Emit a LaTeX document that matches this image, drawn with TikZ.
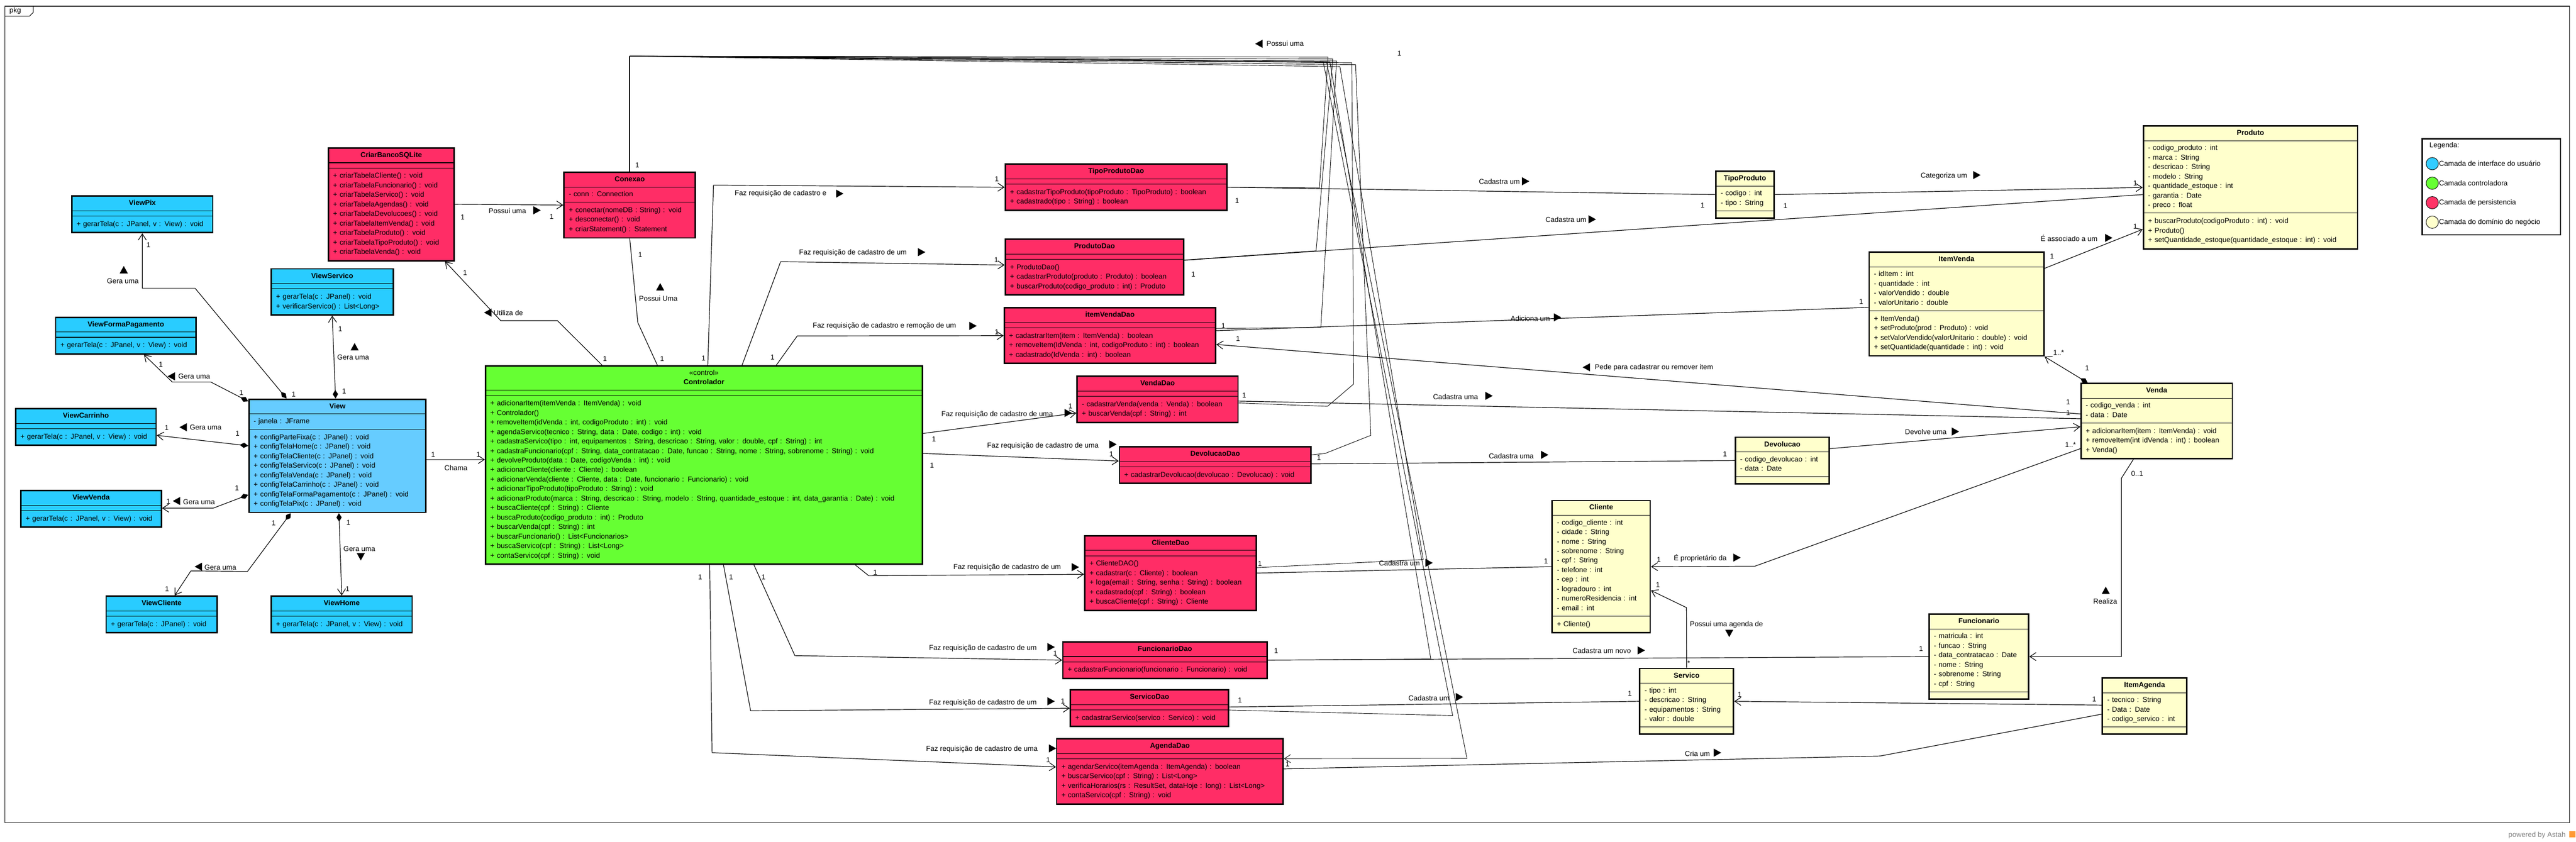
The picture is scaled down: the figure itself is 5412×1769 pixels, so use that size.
\documentclass[tikz,border=0pt]{standalone}
\usepackage{fontspec}
\setmainfont{Liberation Sans}
\usepackage{tikz}
\usetikzlibrary{positioning, fit, arrows.meta}

\definecolor{azulview}{HTML}{29CCFF}
\definecolor{azulmain}{HTML}{66CCFF}
\definecolor{verdectrl}{HTML}{66FF33}
\definecolor{rosadao}{HTML}{FF2D66}
\definecolor{amarelodom}{HTML}{FFFFCC}
\definecolor{azulleg}{HTML}{33CCFF}
\definecolor{rosaleg}{HTML}{FF3366}

\newcommand{\linhas}[1]{\begin{tabular}{@{}l@{}}#1\end{tabular}}
\newcommand{\linhasc}[1]{\begin{tabular}{@{}c@{}}#1\end{tabular}}
% classe UML : nome, posicao, largura do texto, cor, titulo, atributos, metodos
\newcommand{\classe}[7]{%
  \node[cabeca, fill=#4, text width=#3] (#1-t) at #2 {\linhasc{#5}};
  \if\relax\detokenize{#6}\relax
    \node[atrib, inner ysep=5.5pt, fill=#4, text width=#3, below=0pt of #1-t] (#1-a) {};
  \else
    \node[atrib, fill=#4, text width=#3, below=0pt of #1-t] (#1-a) {\linhas{#6}};
  \fi
  \if\relax\detokenize{#7}\relax
    \node[metodo, fill=#4, text width=#3, below=0pt of #1-a] (#1-m) {};
  \else
    \node[metodo, fill=#4, text width=#3, below=0pt of #1-a] (#1-m) {\linhas{#7}};
  \fi
  \node[borda, fit=(#1-t)(#1-m)] (#1) {};
}

\begin{document}
\begin{tikzpicture}[
		x=1pt, y=-1pt,
		font=\fontsize{15}{20}\selectfont,
		cabeca/.style={draw, line width=1.2pt, outer sep=0pt, inner xsep=10pt, inner ysep=5.5pt, align=center, anchor=north west, font=\fontsize{15}{20}\selectfont\bfseries},
		atrib/.style={draw, line width=1.2pt, outer sep=0pt, inner xsep=10pt, inner ysep=6pt, align=left},
		metodo/.style={draw, line width=1.2pt, outer sep=0pt, inner xsep=10pt, inner ysep=7.5pt, align=left},
		borda/.style={draw, line width=3pt, inner sep=0pt},
		assoc/.style={line width=1.3pt},
		nav/.style={assoc, arrows={-Straight Barb[length=13pt, width=17pt]}},
		comp/.style={assoc, arrows={Diamond[length=18pt, width=11pt]-Straight Barb[length=13pt, width=17pt]}},
		fio/.style={line width=1pt},
		rotulo/.style={inner sep=0pt},
		mult/.style={inner sep=0pt},
		pics/tri/.style={code={\fill[rotate=#1] (8,0) -- (-7.5,8.5) -- (-7.5,-8.5) -- cycle;}}
		]
		\useasboundingbox (0,0) rectangle (5412,1769);
		
		% Moldura do pacote
		\draw[line width=1.2pt] (10,13) rectangle (5398,1729);
		\draw[line width=1.2pt] (10,34) -- (62,34) -- (70,26) -- (70,13);
		\node[rotulo] (pkg) at (32,23) {pkg};
		
		% Camada de interface
		\classe{ViewPix}{(151,412)}{276pt}{azulview}{ViewPix}{}{+ gerarTela(c : JPanel, v : View) : void}
		\classe{ViewServico}{(570,565)}{236pt}{azulview}{ViewServico}{}{+ gerarTela(c : JPanel) : void\\+ verificarServico() : List<Long>}
		\classe{ViewFormaPagamento}{(117,667)}{275pt}{azulview}{ViewFormaPagamento}{}{+ gerarTela(c : JPanel, v : View) : void}
		\classe{ViewCarrinho}{(33,859)}{275pt}{azulview}{ViewCarrinho}{}{+ gerarTela(c : JPanel, v : View) : void}
		\classe{ViewVenda}{(44,1031)}{275pt}{azulview}{ViewVenda}{}{+ gerarTela(c : JPanel, v : View) : void}
		\classe{ViewCliente}{(223,1253)}{213pt}{azulview}{ViewCliente}{}{+ gerarTela(c : JPanel) : void}
		\classe{ViewHome}{(570,1253)}{276pt}{azulview}{ViewHome}{}{+ gerarTela(c : JPanel, v : View) : void}
		\classe{View}{(523,839)}{352pt}{azulmain}{View}{- janela : JFrame}{+ configParteFixa(c : JPanel) : void\\+ configTelaHome(c : JPanel) : void\\+ configTelaCliente(c : JPanel) : void\\+ configTelaServico(c : JPanel) : void\\+ configTelaVenda(c : JPanel) : void\\+ configTelaCarrinho(c : JPanel) : void\\+ configTelaFormaPagamento(c : JPanel) : void\\+ configTelaPix(c : JPanel) : void}
		
		% Camada controladora
		\classe{Controlador}{(1020,769)}{898pt}{verdectrl}{{\mdseries <<control>>}\\Controlador}{}{+ adicionarItem(itemVenda : ItemVenda) : void\\+ Controlador()\\+ removeItem(idVenda : int, codigoProduto : int) : void\\+ agendaServico(tecnico : String, data : Date, codigo : int) : void\\+ cadastraServico(tipo : int, equipamentos : String, descricao : String, valor : double, cpf : String) : int\\+ cadastraFuncionario(cpf : String, data\_contratacao : Date, funcao : String, nome : String, sobrenome : String) : void\\+ devolveProduto(data : Date, codigoVenda : int) : void\\+ adicionarCliente(cliente : Cliente) : boolean\\+ adicionarVenda(cliente : Cliente, data : Date, funcionario : Funcionario) : void\\+ adicionarTipoProduto(tipoProduto : String) : void\\+ adicionarProduto(marca : String, descricao : String, modelo : String, quantidade\_estoque : int, data\_garantia : Date) : void\\+ buscaCliente(cpf : String) : Cliente\\+ buscaProduto(codigo\_produto : int) : Produto\\+ buscarVenda(cpf : String) : int\\+ buscarFuncionario() : List<Funcionarios>\\+ buscaServico(cpf : String) : List<Long>\\+ contaServico(cpf : String) : void}
		
		% Camada de persistencia
		\classe{CriarBancoSQLite}{(690,311)}{244pt}{rosadao}{CriarBancoSQLite}{}{+ criarTabelaCliente() : void\\+ criarTabelaFuncionario() : void\\+ criarTabelaServico() : void\\+ criarTabelaAgendas() : void\\+ criarTabelaDevolucoes() : void\\+ criarTabelaItemVenda() : void\\+ criarTabelaProduto() : void\\+ criarTabelaTipoProduto() : void\\+ criarTabelaVenda() : void}
		\classe{Conexao}{(1185,362)}{256pt}{rosadao}{Conexao}{- conn : Connection}{+ conectar(nomeDB : String) : void\\+ desconectar() : void\\+ criarStatement() : Statement}
		\classe{TipoProdutoDao}{(2112,345)}{446pt}{rosadao}{TipoProdutoDao}{}{+ cadastrarTipoProduto(tipoProduto : TipoProduto) : boolean\\+ cadastrado(tipo : String) : boolean}
		\classe{ProdutoDao}{(2112,503)}{355pt}{rosadao}{ProdutoDao}{}{+ ProdutoDao()\\+ cadastrarProduto(produto : Produto) : boolean\\+ buscarProduto(codigo\_produto : int) : Produto}
		\classe{itemVendaDao}{(2110,647)}{424pt}{rosadao}{itemVendaDao}{}{+ cadastrarItem(item : ItemVenda) : boolean\\+ removeItem(IdVenda : int, codigoProduto : int) : boolean\\+ cadastrado(IdVenda : int) : boolean}
		\classe{VendaDao}{(2263,791)}{318pt}{rosadao}{VendaDao}{}{- cadastrarVenda(venda : Venda) : boolean\\+ buscarVenda(cpf : String) : int}
		\classe{DevolucaoDao}{(2352,939)}{382pt}{rosadao}{DevolucaoDao}{}{+ cadastrarDevolucao(devolucao : Devolucao) : void}
		\classe{ClienteDao}{(2279,1126)}{340pt}{rosadao}{ClienteDao}{}{+ ClienteDAO()\\+ cadastrar(c : Cliente) : boolean\\+ loga(email : String, senha : String) : boolean\\+ cadastrado(cpf : String) : boolean\\+ buscaCliente(cpf : String) : Cliente}
		\classe{FuncionarioDao}{(2233,1349)}{409pt}{rosadao}{FuncionarioDao}{}{+ cadastrarFuncionario(funcionario : Funcionario) : void}
		\classe{ServicoDao}{(2249,1450)}{312pt}{rosadao}{ServicoDao}{}{+ cadastrarServico(servico : Servico) : void}
		\classe{AgendaDao}{(2220,1553)}{456pt}{rosadao}{AgendaDao}{}{+ agendarServico(itemAgenda : ItemAgenda) : boolean\\+ buscarServico(cpf : String) : List<Long>\\+ verificaHorarios(rs : ResultSet, dataHoje : long) : List<Long>\\+ contaServico(cpf : String) : void}
		
		% Dominio do negocio
		\classe{TipoProduto}{(3605,360)}{102pt}{amarelodom}{TipoProduto}{- codigo : int\\- tipo : String}{}
		\classe{Produto}{(4503,265)}{430pt}{amarelodom}{Produto}{- codigo\_produto : int\\- marca : String\\- descricao : String\\- modelo : String\\- quantidade\_estoque : int\\- garantia : Date\\- preco : float}{+ buscarProduto(codigoProduto : int) : void\\+ Produto()\\+ setQuantidade\_estoque(quantidade\_estoque : int) : void}
		\classe{ItemVenda}{(3927,530)}{347pt}{amarelodom}{ItemVenda}{- idItem : int\\- quantidade : int\\- valorVendido : double\\- valorUnitario : double}{+ ItemVenda()\\+ setProduto(prod : Produto) : void\\+ setValorVendido(valorUnitario : double) : void\\+ setQuantidade(quantidade : int) : void}
		\classe{Venda}{(4372,806)}{298pt}{amarelodom}{Venda}{- codigo\_venda : int\\- data : Date}{+ adicionarItem(item : ItemVenda) : void\\+ removeItem(int idVenda : int) : boolean\\+ Venda()}
		\classe{Devolucao}{(3646,919)}{177pt}{amarelodom}{Devolucao}{- codigo\_devolucao : int\\- data : Date}{}
		\classe{Cliente}{(3261,1052)}{186pt}{amarelodom}{Cliente}{- codigo\_cliente : int\\- cidade : String\\- nome : String\\- sobrenome : String\\- cpf : String\\- telefone : int\\- cep : int\\- logradouro : int\\- numeroResidencia : int\\- email : int}{+ Cliente()}
		\classe{Servico}{(3445,1405)}{177pt}{amarelodom}{Servico}{- tipo : int\\- descricao : String\\- equipamentos : String\\- valor : double}{}
		\classe{Funcionario}{(4053,1291)}{189pt}{amarelodom}{Funcionario}{- matricula : int\\- funcao : String\\- data\_contratacao : Date\\- nome : String\\- sobrenome : String\\- cpf : String}{}
		\classe{ItemAgenda}{(4417,1425)}{157pt}{amarelodom}{ItemAgenda}{- tecnico : String\\- Data : Date\\- codigo\_servico : int}{}
		
		% Associacoes da interface
		\draw[comp] ([xshift=-107pt]View.north) -- (410,606) -- (299,606) -- (ViewPix.south);
		\draw[comp] ([xshift=-4pt]View.north) -- (ViewServico.south);
		\draw[comp] ([yshift=-6pt]View.north west) -- (443,803) -- (362,803) -- ([xshift=38pt]ViewFormaPagamento.south);
		\draw[comp] ([yshift=21pt]View.west) -- ([yshift=-17.5pt]ViewCarrinho.east);
		\draw[comp] ([yshift=-82pt]View.west) -- (448,1068) -- ([yshift=1.5pt]ViewVenda.east);
		\draw[comp] ([xshift=-98pt]View.south) -- (520,1201) -- (401,1200) -- ([xshift=27.5pt]ViewCliente.north);
		\draw[comp] ([xshift=3pt]View.south) -- (ViewHome.north);
		\draw[nav] ([yshift=-8pt]View.east) -- ([yshift=11.5pt]Controlador.west);
		
		% Controlador e persistencia
		\draw[nav] (CriarBancoSQLite.east) -- (Conexao.west);
		\draw[nav] ([xshift=-214pt]Controlador.north) -- (1171,674) -- (1052,674) -- ([xshift=113pt]CriarBancoSQLite.south);
		\draw[assoc] (Conexao.south) -- (1340,678) -- ([xshift=-98pt]Controlador.north);
		\draw[nav] ([xshift=8pt]Controlador.north) -- (1499,389) -- (TipoProdutoDao.west);
		\draw[nav] ([xshift=80pt]Controlador.north) -- (1640,550) -- ([yshift=4.5pt]ProdutoDao.west);
		\draw[nav] ([xshift=152pt]Controlador.north) -- (1675,706) -- (itemVendaDao.west);
		\draw[nav] ([yshift=66.5pt]Controlador.east) -- ([yshift=-28.5pt]VendaDao.west);
		\draw[nav] ([yshift=24.5pt]Controlador.east) -- ([yshift=8.5pt]DevolucaoDao.west);
		\draw[nav] ([xshift=318pt]Controlador.south) -- (1825,1210) -- ([yshift=-2.5pt]ClienteDao.west);
		\draw[nav] ([xshift=105pt]Controlador.south) -- (1670,1378) -- (FuncionarioDao.west);
		\draw[nav] ([xshift=41pt]Controlador.south) -- (1577,1494) -- (ServicoDao.west);
		\draw[nav] ([xshift=12pt]Controlador.south) -- (1496,1582) -- ([yshift=9.5pt]AgendaDao.west);
		
		% Conexao usada pelos DAOs
		\coordinate (topo) at (1323,118);
		\draw[line width=2pt] (Conexao.north) -- (topo);
		\draw[fio] (topo) -- (2790,120) -- (2772,395) -- (TipoProdutoDao.east);
		\draw[fio] (topo) -- (2800,124) -- (2765,527) -- ([yshift=15pt]ProdutoDao.east);
		\draw[fio] (topo) -- (2808,128) -- (2775,688) -- ([yshift=15pt]itemVendaDao.east);
		\draw[fio] (topo) -- (2840,132) -- (2844,807) -- (2789,854) -- ([yshift=-7.5pt]VendaDao.east);
		\draw[fio] (topo) -- (2848,136) -- (2880,915) -- (2784,953) -- ([yshift=21.5pt]DevolucaoDao.east);
		\draw[fio] (topo) -- (2815,140) -- (2990,1176) -- ([yshift=11.5pt]ClienteDao.east);
		\draw[fio] (topo) -- (2794,130) -- (3006,1385) -- (FuncionarioDao.east);
		\draw[fio] (topo) -- (2780,130) -- (3052,1504) -- ([yshift=-4pt]ServicoDao.east);
		\draw[fio, arrows={-Straight Barb[length=13pt, width=17pt]}] (topo) -- (2787,130) -- (3082,1594) -- ([yshift=27pt]AgendaDao.east);
		
		% DAOs e dominio
		\draw[assoc] (TipoProdutoDao.east) -- (TipoProduto.west);
		\draw[assoc] ([yshift=14.5pt]ProdutoDao.east) -- ([yshift=-15pt]Produto.west);
		\draw[assoc] ([yshift=10.5pt]itemVendaDao.east) -- ([yshift=-7pt]ItemVenda.west);
		\draw[assoc] ([yshift=-3.5pt]VendaDao.east) -- ([yshift=5pt]Venda.west);
		\draw[assoc] ([yshift=2.5pt]DevolucaoDao.east) -- (Devolucao.west);
		\draw[assoc] (ClienteDao.east) -- (Cliente.west);
		\draw[assoc] (FuncionarioDao.east) -- (Funcionario.west);
		\draw[assoc] ([yshift=2.5pt]ServicoDao.east) -- (Servico.west);
		\draw[assoc] ([yshift=5.5pt]AgendaDao.east) -- (3950,1589) -- ([yshift=-17pt]ItemAgenda.west);
		\draw[nav] ([yshift=15pt]Venda.west) -- ([yshift=-18.5pt]itemVendaDao.east);
		
		% Associacoes do dominio
		\draw[nav] (TipoProduto.east) -- (Produto.west);
		\draw[nav] ([yshift=75pt]ItemVenda.east) -- ([yshift=-88pt]Produto.west);
		\draw[comp] ([xshift=-145pt]Venda.north) -- (ItemVenda.south east);
		\draw[nav] ([yshift=25pt]Devolucao.east) -- ([yshift=-12pt]Venda.west);
		\draw[nav] ([yshift=-58pt]Venda.west) -- (3687,1190) -- (Cliente.east);
		\draw[nav] ([xshift=-49pt]Venda.south) -- (4457,1005) -- (4457,1380) -- (Funcionario.east);
		\draw[nav] (Servico.north) -- (3543,1277) -- ([yshift=-50pt]Cliente.east);
		\draw[nav] ([yshift=2pt]ItemAgenda.west) -- (Servico.east);
		
		% Rotulos
		\node[rotulo] (r-gera1) at (258,591) {Gera uma};   \pic at (260,567) {tri=90};
		\node[rotulo] (r-gera2) at (742,751) {Gera uma};   \pic at (745,729) {tri=90};
		\node[rotulo] (r-gera3) at (408,791) {Gera uma};   \pic at (360,791) {tri=180};
		\node[rotulo] (r-gera4) at (432,898) {Gera uma};   \pic at (385,898) {tri=180};
		\node[rotulo] (r-gera5) at (418,1055) {Gera uma};  \pic at (371,1053) {tri=180};
		\node[rotulo] (r-gera6) at (463,1192) {Gera uma};  \pic at (417,1191) {tri=180};
		\node[rotulo] (r-gera7) at (755,1154) {Gera uma};  \pic at (758,1170) {tri=-90};
		\node[rotulo] (r-chama) at (958,983) {Chama};
		\node[rotulo] (r-possui1) at (1066,443) {Possui uma};  \pic at (1128,442) {tri=0};
		\node[rotulo] (r-utiliza) at (1068,658) {Utiliza de};  \pic at (1025,657) {tri=180};
		\node[rotulo] (r-possui2) at (1383,627) {Possui Uma};  \pic at (1387,603) {tri=90};
		\node[rotulo] (r-possui3) at (2700,92) {Possui uma};   \pic at (2645,92) {tri=180};
		\node[rotulo] (r-faz1) at (1640,407) {Faz requisição de cadastro e};  \pic at (1764,407) {tri=0};
		\node[rotulo] (r-faz2) at (1792,531) {Faz requisição de cadastro de um};  \pic at (1936,530) {tri=0};
		\node[rotulo] (r-faz3) at (1858,685) {Faz requisição de cadastro e remoção de um};  \pic at (2044,685) {tri=0};
		\node[rotulo] (r-faz4) at (2095,871) {Faz requisição de cadastro de uma};  \pic at (2244,868) {tri=0};
		\node[rotulo] (r-faz5) at (2191,937) {Faz requisição de cadastro de uma};  \pic at (2338,934) {tri=0};
		\node[rotulo] (r-faz6) at (2116,1193) {Faz requisição de cadastro de um};  \pic at (2259,1192) {tri=0};
		\node[rotulo] (r-faz7) at (2065,1363) {Faz requisição de cadastro de um};  \pic at (2208,1360) {tri=0};
		\node[rotulo] (r-faz8) at (2065,1477) {Faz requisição de cadastro de um};  \pic at (2208,1474) {tri=0};
		\node[rotulo] (r-faz9) at (2063,1575) {Faz requisição de cadastro de uma};  \pic at (2211,1573) {tri=0};
		\node[rotulo] (r-cad1) at (3150,382) {Cadastra um};  \pic at (3205,381) {tri=0};
		\node[rotulo] (r-cad2) at (3290,462) {Cadastra um};  \pic at (3345,461) {tri=0};
		\node[rotulo] (r-categ) at (4084,370) {Categoriza um};  \pic at (4153,368) {tri=0};
		\node[rotulo] (r-adic) at (3215,669) {Adiciona um};  \pic at (3272,667) {tri=0};
		\node[rotulo] (r-pede) at (3475,773) {Pede para cadastrar ou remover item};  \pic at (3333,772) {tri=180};
		\node[rotulo] (r-cad3) at (3058,834) {Cadastra uma};  \pic at (3128,832) {tri=0};
		\node[rotulo] (r-cad4) at (3175,958) {Cadastra uma};  \pic at (3245,956) {tri=0};
		\node[rotulo] (r-devolve) at (4046,908) {Devolve uma};  \pic at (4108,907) {tri=0};
		\node[rotulo] (r-assoc) at (4347,501) {É associado a um};  \pic at (4430,500) {tri=0};
		\node[rotulo] (r-prop) at (3572,1173) {É proprietário da};  \pic at (3649,1172) {tri=0};
		\node[rotulo] (r-realiza) at (4423,1264) {Realiza};  \pic at (4424,1241) {tri=90};
		\node[rotulo] (r-agenda) at (3627,1313) {Possui uma agenda de};  \pic at (3633,1331) {tri=-90};
		\node[rotulo] (r-cad5) at (2940,1184) {Cadastra um};  \pic at (3002,1183) {tri=0};
		\node[rotulo] (r-cad6) at (3365,1368) {Cadastra um novo};  \pic at (3448,1367) {tri=0};
		\node[rotulo] (r-cad7) at (3002,1467) {Cadastra um};  \pic at (3066,1465) {tri=0};
		\node[rotulo] (r-cria) at (3566,1584) {Cria um};  \pic at (3608,1582) {tri=0};
		
		% Multiplicidades
		\foreach \x/\y [count=\i] in {312/515, 617/829, 715/691, 723/822, 338/766, 507/826, 350/899, 499/911, 354/1054, 498/1026, 351/1238, 575/1099, 732/1098, 730/1238, 910/955, 1005/955, 972/457, 1159/455, 977/573, 1271/754, 1345/536, 1391/754, 1339/347, 1478/753, 2094/376, 2093/546, 1623/751, 2094/698, 1962/923, 2249/854, 1958/978, 2335/954, 1839/1203, 1604/1213, 2217/1373, 1536/1213, 2233/1474, 1471/1213, 2202/1597, 2599/422, 3577/432, 2507/577, 3751/433, 4486/385, 3910/634, 2570/685, 4345/845, 2601/712, 4345/868, 2614/831, 3624/954, 2771/962, 4385/774, 4311/539, 4486/476, 3485/1176, 3483/1229, 3655/1460, 4400/1470, 3424/1458, 2605/1472, 3248/1180, 2647/1185, 4036/1364, 2681/1368, 2705/1606, 2940/112}
			\node[mult] (m\i) at (\x,\y) {1};
		\node[mult] (m-iv) at (4325,741) {1..*};
		\node[mult] (m-cv) at (4350,935) {1..*};
		\node[mult] (m-vf) at (4490,996) {0..1};
		\node[mult] (m-sc) at (3548,1394) {*};
		
		% Legenda
		\node[draw, line width=3pt, anchor=north west, minimum width=291pt, minimum height=202pt, inner sep=0pt] (legenda) at (5087,290) {};
		\node[rotulo, anchor=west] (leg-titulo) at (5104,306) {Legenda:};
		\foreach \cor/\txt [count=\i] in {azulleg/Camada de interface do usuário, verdectrl/Camada controladora, rosaleg/Camada de persistencia, amarelodom/Camada do domínio do negócio} {
			\node[circle, draw, line width=1pt, fill=\cor, minimum size=26pt, inner sep=0pt] (leg-c\i) at (5110,303+41*\i) {};
			\node[rotulo, anchor=west] (leg-t\i) at (5124,303+41*\i) {\txt};
		}
		
		\node[rotulo, text=gray] (astah) at (5330,1755) {powered by Astah};
		\node[fill=orange!80, minimum size=13pt, inner sep=0pt] (astah-logo) at (5404,1754) {};
	\end{tikzpicture}
\end{document}
